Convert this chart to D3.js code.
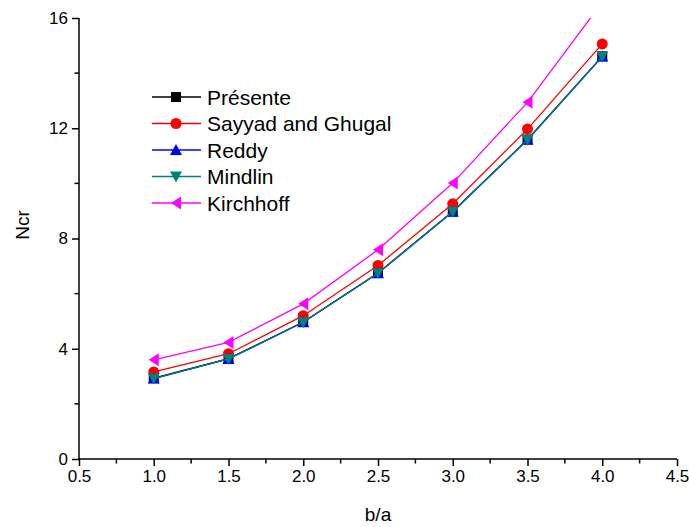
<!DOCTYPE html>
<html>
<head>
<meta charset="utf-8">
<script src="https://cdn.jsdelivr.net/npm/d3@7"></script>
<style>
    body { margin: 0; background: #fff; }
    text { font-family: "Liberation Sans", Arial, sans-serif; fill: #000; }
</style>
</head>
<body>
<div id="chart"></div>
<script>
// b/a ratios on the x axis
var ratios = [1.0, 1.5, 2.0, 2.5, 3.0, 3.5, 4.0];

// Ncr for each theory
var presente  = [2.93, 3.64, 4.97, 6.75, 8.98, 11.59, 14.61];
var sayyad    = [3.16, 3.82, 5.20, 7.02, 9.26, 11.97, 15.06];
var reddy     = [2.92, 3.63, 4.96, 6.74, 8.97, 11.58, 14.60];
var mindlin   = [2.92, 3.63, 4.96, 6.74, 8.97, 11.58, 14.60];
var kirchhoff = [3.60, 4.23, 5.63, 7.59, 10.01, 12.94, 16.57];

var seriesNames = ["Présente", "Sayyad and Ghugal", "Reddy", "Mindlin", "Kirchhoff"];
var seriesValues = [presente, sayyad, reddy, mindlin, kirchhoff];
var seriesColors = ["#000000", "#ff0000", "#0000ff", "#008080", "#ff00ff"];
var seriesMarkers = ["square", "circle", "up", "down", "left"];

var xTicks = [0.5, 1.0, 1.5, 2.0, 2.5, 3.0, 3.5, 4.0, 4.5];
var yTicks = [0, 4, 8, 12, 16];

var width = 689, height = 527;
var svg = d3.select("#chart").append("svg").attr("width", width).attr("height", height);

var x = d3.scaleLinear().domain([0.5, 4.5]).range([79, 677]);
var y = d3.scaleLinear().domain([0, 16]).range([459, 18]);

// marker shapes drawn as small paths round (0,0)
function markerPath(type) {
    if (type == "square") return "M-5,-5H5V5H-5Z";
    if (type == "circle") return "M-5.5,0A5.5,5.5 0 1,0 5.5,0A5.5,5.5 0 1,0 -5.5,0Z";
    if (type == "up") return "M0,-6L6,5L-6,5Z";
    if (type == "down") return "M0,6L6,-5L-6,-5Z";
    return "M-5,0L5,-6.5L5,6.5Z";
}

svg.append("clipPath").attr("id", "plotclip")
    .append("rect")
    .attr("x", x.range()[0]).attr("y", y.range()[1])
    .attr("width", x.range()[1] - x.range()[0])
    .attr("height", y.range()[0] - y.range()[1]);

var plot = svg.append("g").attr("clip-path", "url(#plotclip)");

var line = d3.line()
    .x(function(d) { return x(d[0]); })
    .y(function(d) { return y(d[1]); });

seriesValues.forEach(function(vals, i) {
    var pts = ratios.map(function(r, j) { return [r, vals[j]]; });
    var g = plot.append("g");
    g.append("path")
        .attr("d", line(pts))
        .attr("fill", "none")
        .attr("stroke", seriesColors[i])
        .attr("stroke-width", 1.3);
    g.selectAll("path.mk")
        .data(pts)
        .enter()
        .append("path")
        .attr("class", "mk")
        .attr("d", markerPath(seriesMarkers[i]))
        .attr("transform", function(d) { return "translate(" + x(d[0]) + "," + y(d[1]) + ")"; })
        .attr("fill", seriesColors[i]);
});

// axes
var xAxis = d3.axisBottom(x).tickValues(xTicks).tickFormat(d3.format(".1f")).tickSize(7).tickPadding(4);
var yAxis = d3.axisLeft(y).tickValues(yTicks).tickFormat(d3.format("d")).tickSize(7).tickPadding(4);

var gx = svg.append("g").attr("transform", "translate(0," + y(0) + ")").call(xAxis);
var gy = svg.append("g").attr("transform", "translate(" + x(0.5) + ",0)").call(yAxis);

// minor ticks
var xMinor = d3.range(0.75, 4.5, 0.5);
var yMinor = [2, 6, 10, 14];
gx.selectAll("line.minor").data(xMinor).enter().append("line")
    .attr("class", "minor")
    .attr("x1", function(d) { return x(d); }).attr("x2", function(d) { return x(d); })
    .attr("y1", 0).attr("y2", 4.5)
    .attr("stroke", "#000").attr("stroke-width", 1.5);
gy.selectAll("line.minor").data(yMinor).enter().append("line")
    .attr("class", "minor")
    .attr("y1", function(d) { return y(d); }).attr("y2", function(d) { return y(d); })
    .attr("x1", 0).attr("x2", -4.5)
    .attr("stroke", "#000").attr("stroke-width", 1.5);

[gx, gy].forEach(function(g) {
    g.select(".domain").attr("stroke", "#000").attr("stroke-width", 1.5);
    g.selectAll(".tick line").attr("stroke", "#000").attr("stroke-width", 1.5);
    g.selectAll(".tick text").style("font-size", "17px").attr("fill", "#000")
        .style("font-family", "'Liberation Sans', Arial, sans-serif");
});
gx.select(".domain").attr("d", "M" + x.range()[0] + ",0H" + x.range()[1]);
gy.select(".domain").attr("d", "M0," + y.range()[0] + "V" + y.range()[1]);

// axis titles
svg.append("text")
    .attr("x", x(2.5)).attr("y", 521)
    .attr("text-anchor", "middle")
    .style("font-size", "19px")
    .text("b/a");
svg.append("text")
    .attr("transform", "translate(29," + 225 + ") rotate(-90)")
    .attr("text-anchor", "middle")
    .style("font-size", "19px")
    .text("Ncr");

// legend
var legend = svg.append("g");
seriesNames.forEach(function(name, i) {
    var ly = 97 + i * 26.5;
    legend.append("line")
        .attr("x1", 152).attr("x2", 201)
        .attr("y1", ly).attr("y2", ly)
        .attr("stroke", seriesColors[i]).attr("stroke-width", 1.3);
    legend.append("path")
        .attr("d", markerPath(seriesMarkers[i]))
        .attr("transform", "translate(176," + ly + ")")
        .attr("fill", seriesColors[i]);
    legend.append("text")
        .attr("x", 207).attr("y", ly + 7.5)
        .style("font-size", "21px")
        .text(name);
});
</script>
</body>
</html>
